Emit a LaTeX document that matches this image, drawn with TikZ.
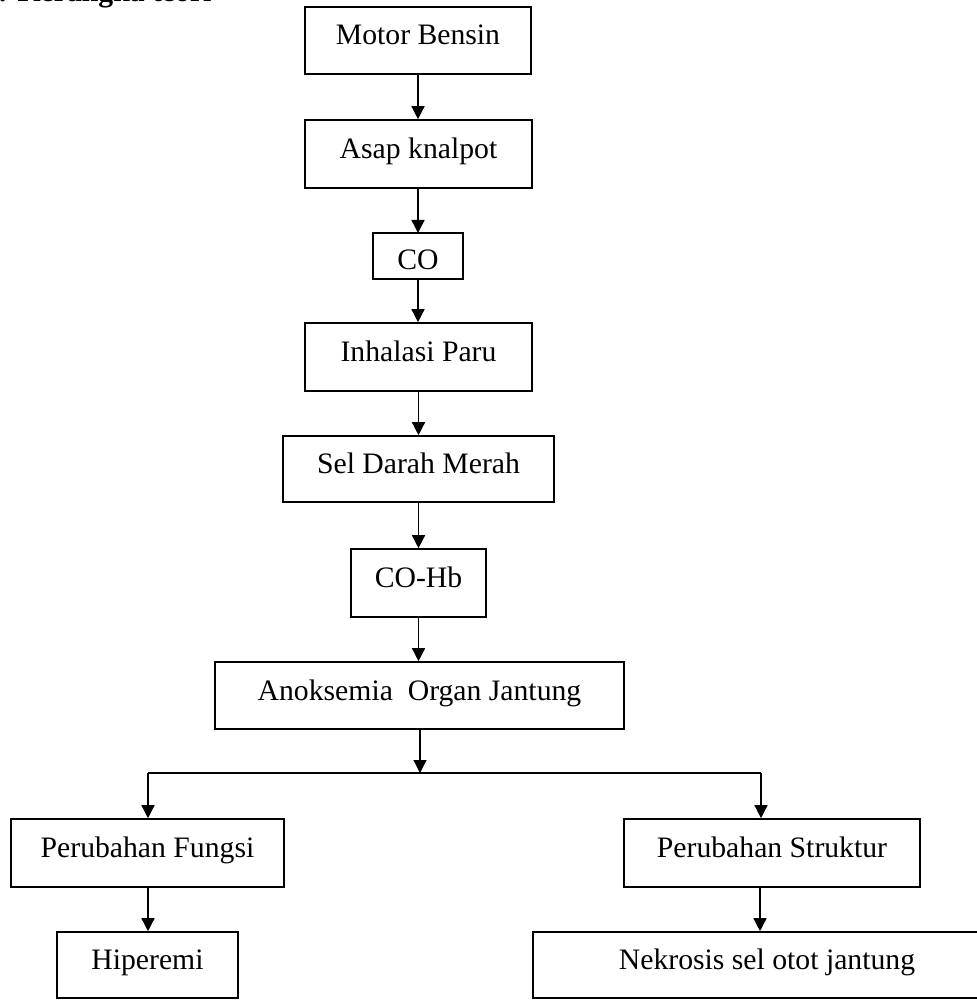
\documentclass[tikz,border=0pt]{standalone}
\usepackage{fontspec}
\setmainfont{Liberation Serif}
\usetikzlibrary{arrows.meta}
\begin{document}
\begin{tikzpicture}[x=1pt,y=-1pt,
  box/.style={draw=black,line width=1.6pt,inner sep=0pt,anchor=center,
    font=\fontsize{29.7}{34}\selectfont,text height=22pt,text depth=13pt},
  conn/.style={line width=1.4pt,-{Triangle[width=13pt,length=13pt]}},
  plain/.style={line width=1.4pt}]
\useasboundingbox (0,0) rectangle (976,1000);
\node[anchor=base east,font=\fontsize{29.7}{34}\selectfont\bfseries] (title) at (215,1.5) {: Kerangka teori};
\node[box,minimum width=226pt,minimum height=67pt] (mb) at (418,40.5) {Motor Bensin};
\node[box,minimum width=227pt,minimum height=68pt] (ak) at (418.5,154) {Asap knalpot};
\node[box,minimum width=90pt,minimum height=46pt,text height=30pt,text depth=4pt] (co) at (418,256) {CO};
\node[box,minimum width=227pt,minimum height=68pt] (ip) at (418.5,357) {Inhalasi Paru};
\node[box,minimum width=271pt,minimum height=66pt] (sdm) at (418.5,469) {Sel Darah Merah};
\node[box,minimum width=135pt,minimum height=68pt] (cohb) at (418.5,583) {CO-Hb};
\node[box,minimum width=409pt,minimum height=67pt] (ano) at (419.5,695.5) {Anoksemia\ \ Organ Jantung};
\node[box,minimum width=273pt,minimum height=68pt] (pf) at (147.5,853) {Perubahan Fungsi};
\node[box,minimum width=296pt,minimum height=68pt] (ps) at (772,853) {Perubahan Struktur};
\node[box,minimum width=181pt,minimum height=66pt] (hip) at (147.5,965) {Hiperemi};
\node[box,minimum width=468pt,minimum height=66pt] (nek) at (767,965) {Nekrosis sel otot jantung};
\draw[conn] (mb.south) -- (mb.south |- ak.north);
\draw[conn] (418,188) -- (418,233) coordinate (cotop);
\draw[conn] (co.south) -- (co.south |- ip.north);
\draw[conn] (ip.south) -- (ip.south |- sdm.north);
\draw[conn] (sdm.south) -- (sdm.south |- cohb.north);
\draw[conn] (cohb.south) -- (cohb.south |- ano.north);
\coordinate (bm) at (420,773);
\coordinate (bl) at (148,773);
\coordinate (br) at (761,773);
\draw[conn] (ano.south -| bm) -- (bm);
\draw[plain] (bl) -- (br);
\draw[conn] (bl) -- (bl |- pf.north);
\draw[conn] (br) -- (br |- ps.north);
\draw[conn] (pf.south -| bl) -- (bl |- hip.north);
\coordinate (rr) at (760,887);
\draw[conn] (rr) -- (rr |- nek.north);
\end{tikzpicture}
\end{document}
